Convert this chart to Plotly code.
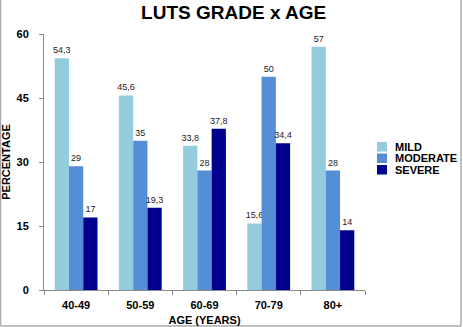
import plotly.graph_objects as go

categories = ["40-49", "50-59", "60-69", "70-79", "80+"]
mild = [54.3, 45.6, 33.8, 15.6, 57]
moderate = [29, 35, 28, 50, 28]
severe = [17, 19.3, 37.8, 34.4, 14]
series_names = ["MILD", "MODERATE", "SEVERE"]
colors = ["#93CDDD", "#558ED5", "#00008F"]
y_ticks = [0, 15, 30, 45, 60]

FONT = "Liberation Sans, Arial, sans-serif"

fig = go.Figure()
for name, vals, col in zip(series_names, [mild, moderate, severe], colors):
    fig.add_trace(go.Bar(
        x=categories, y=vals, name=name, marker_color=col,
        marker_line_width=0,
        text=[f"{v:g}".replace(".", ",") for v in vals],
        textposition="outside", cliponaxis=False, constraintext="none",
        textfont=dict(size=9, color="#222222", family=FONT),
        showlegend=False,
    ))

L, R, T, B = 44, 98, 34, 37
W, H = 463, 327
pw, ph = W - L - R, H - T - B

def px_x(p):
    return (p - L) / pw

def px_y(p):
    return (H - B - p) / ph

shapes = []
annotations = []
# manual legend
for i, (name, col) in enumerate(zip(series_names, colors)):
    top = 142 + i * 11.5
    shapes.append(dict(type="rect", xref="paper", yref="paper",
                       x0=px_x(377), x1=px_x(387), y0=px_y(top + 9.5), y1=px_y(top),
                       fillcolor=col, line_width=0))
    annotations.append(dict(xref="paper", yref="paper", x=px_x(393), y=px_y(top + 4.75),
                            text=f"<b>{name}</b>", showarrow=False, xanchor="left", yanchor="middle",
                            font=dict(size=11, family=FONT, color="#000000")))
# frame lines
for (x0, y0, x1, y1) in [(0.5, 0, 0.5, 326), (461, 0, 461, 326), (0.5, 326, 461, 326)]:
    shapes.append(dict(type="line", xref="paper", yref="paper",
                       x0=px_x(x0), x1=px_x(x1), y0=px_y(y0), y1=px_y(y1),
                       line=dict(color="#ABABAB", width=1.5)))

fig.update_layout(
    width=W, height=H,
    margin=dict(l=L, r=R, t=T, b=B, autoexpand=False),
    paper_bgcolor="white", plot_bgcolor="white",
    barmode="group", bargap=0.333, bargroupgap=0,
    separators=", ",
    font=dict(family=FONT, color="#000000"),
    title=dict(text="<b>LUTS GRADE x AGE</b>", x=px_x(206), xanchor="center",
               y=1 - 12 / H, yanchor="middle", font=dict(size=19, family=FONT, color="#000000")),
    xaxis=dict(
        automargin=False,
        title=dict(text="<b>AGE (YEARS)</b>", font=dict(size=11), standoff=6),
        tickfont=dict(size=11), tickprefix="<b>", ticksuffix="</b>",
        ticklabelstandoff=5,
        showline=True, linecolor="#8C8C8C", linewidth=1,
        ticks="outside", tickson="boundaries", ticklen=4, tickcolor="#8C8C8C",
        showgrid=False, zeroline=False,
    ),
    yaxis=dict(
        automargin=False,
        title=dict(text="<b>PERCENTAGE</b>", font=dict(size=11), standoff=10),
        range=[0, 60], tickvals=y_ticks, ticktext=[f"<b>{v}</b>" for v in y_ticks],
        tickfont=dict(size=11), ticklabelstandoff=8,
        showline=True, linecolor="#8C8C8C", linewidth=1,
        ticks="outside", ticklen=4, tickcolor="#8C8C8C",
        showgrid=False, zeroline=False,
    ),
    shapes=shapes, annotations=annotations,
)

fig.write_html("out.html")
